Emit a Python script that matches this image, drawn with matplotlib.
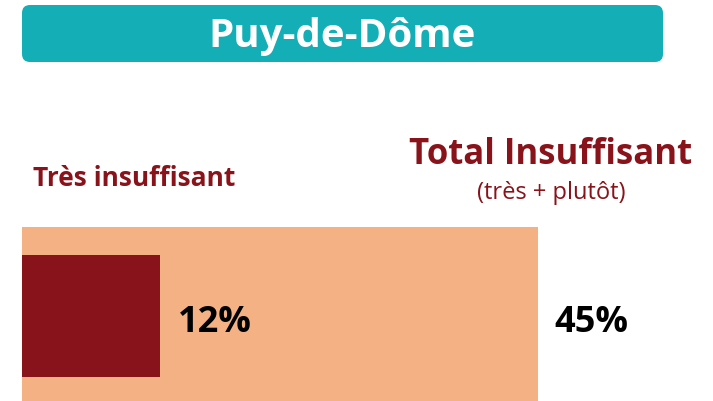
import matplotlib.pyplot as plt
from matplotlib.patches import FancyBboxPatch

# données
region = 'Puy-de-Dôme'
tres_insuffisant = 12
total_insuffisant = 45
label_tres = 'Très insuffisant'
label_total = 'Total Insuffisant'
label_total_sub = '(très + plutôt)'

plt.rcParams['font.family'] = ['Open Sans', 'DejaVu Sans']

teal = '#14AFB6'
rouge = '#88131A'
orange = '#F4B183'

W, H = 713, 401
fig = plt.figure(figsize=(W / 100, H / 100), dpi=100)

# bandeau titre
bg = fig.add_axes([0, 0, 1, 1])
bg.set_xlim(0, W)
bg.set_ylim(H, 0)
bg.axis('off')
bg.add_patch(FancyBboxPatch((22, 5), 641, 57, boxstyle='round,pad=0,rounding_size=8',
                            facecolor=teal, edgecolor='none'))
bg.text(342, 36, region, color='white', fontsize=29, fontweight='bold',
        ha='center', va='center')

bg.text(33, 178, label_tres, color=rouge, fontsize=19, fontweight='bold',
        ha='left', va='center')
bg.text(551, 155, label_total, color=rouge, fontsize=25, fontweight='bold',
        ha='center', va='center')
bg.text(551, 193, label_total_sub, color=rouge, fontsize=17,
        ha='center', va='center')

# barres
ax = fig.add_axes([22 / W, 0, (W - 22) / W, 174 / H])
ax.set_xlim(0, total_insuffisant * (W - 22) / 516)
ax.set_ylim(0, 1)
ax.barh(0.5, total_insuffisant, height=1.0, left=0, color=orange, align='center')
ax.barh(0.489, tres_insuffisant, height=0.70, left=0, color=rouge, align='center')
ax.axis('off')

ax.text(tres_insuffisant + 1.6, 0.45, f'{tres_insuffisant}%', fontsize=26,
        fontweight='bold', color='black', ha='left', va='center')
ax.text(total_insuffisant + 1.4, 0.45, f'{total_insuffisant}%', fontsize=26,
        fontweight='bold', color='black', ha='left', va='center')

fig.savefig('out.png', dpi=100)
